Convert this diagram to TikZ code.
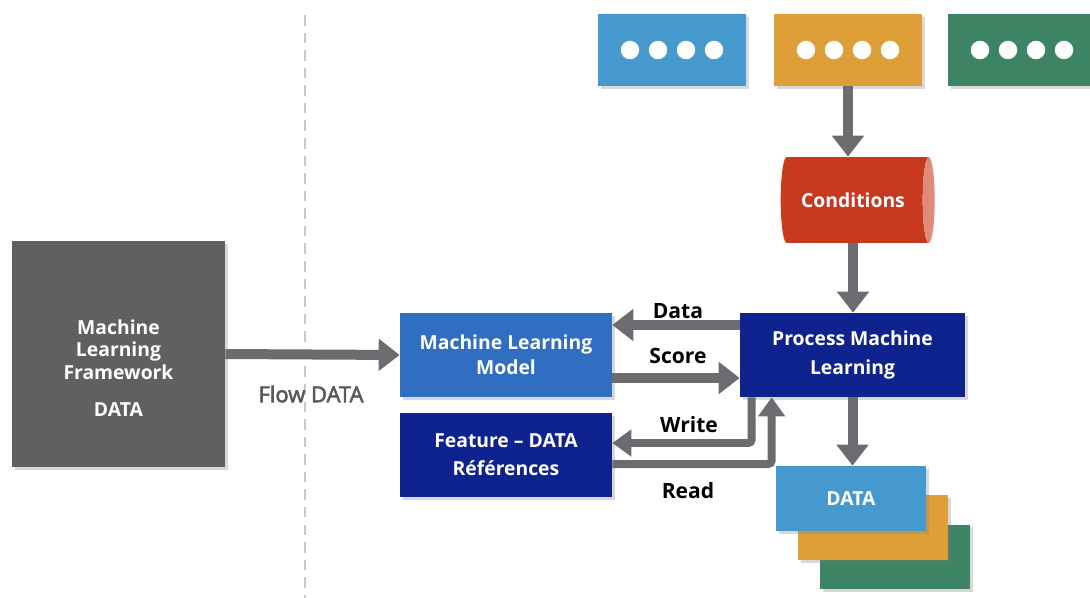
\documentclass[tikz,border=0pt]{standalone}
\usepackage{fontspec}
\setsansfont{Open Sans}
\newfontfamily\flowfont{Open Sans}[FakeBold=2.5]
\definecolor{fwgray}{HTML}{5F6062}
\definecolor{flowgray}{HTML}{58595B}
\definecolor{arrowgray}{HTML}{6B6C6F}
\definecolor{dashgray}{HTML}{C8C8C8}
\definecolor{mlblue}{HTML}{2F6EC1}
\definecolor{navy}{HTML}{0E238E}
\definecolor{tblue}{HTML}{4699CC}
\definecolor{torange}{HTML}{DF9F38}
\definecolor{tgreen}{HTML}{3C8463}
\definecolor{condred}{HTML}{C83A1F}
\definecolor{condcap}{HTML}{E08A77}
\usetikzlibrary{shapes.geometric,arrows.meta,positioning,calc,shadows}

\begin{document}
\begin{tikzpicture}[
  x=0.02cm, y=-0.02cm,
  box/.style={fill=#1, draw=none, text=white, font=\sffamily\bfseries\fontsize{11}{14}\selectfont,
    align=center, drop shadow={shadow xshift=1.5pt, shadow yshift=-1.5pt, opacity=0.3}},
  flow/.style={draw=arrowgray, line width=0.2cm, -{Triangle[length=0.42cm, width=0.62cm]}},
  thinflow/.style={draw=arrowgray, line width=0.16cm, rounded corners=2pt,
    -{Triangle[length=0.38cm, width=0.52cm]}},
  lbl/.style={font=\sffamily\bfseries\large, text=black}
]
  \clip (0,0) rectangle (1090,598);
  \fill[white] (0,0) rectangle (1090,598);

  % Separator
  \draw[dashgray, line width=1.5pt, dash pattern=on 6pt off 4pt] (305,15) -- (305,598);

  % Left block
  \node[box=fwgray, minimum width=4.26cm, minimum height=4.52cm] (frame) at (118.5,354) {};
  \node[text=white, font=\sffamily\bfseries\fontsize{11}{13}\selectfont, align=center]
    (frametxt) at (118.5,368) {Machine\\Learning\\Framework\\[8pt]DATA};
  \node[font=\flowfont\fontsize{12.5}{15}\selectfont, text=flowgray] (flowlbl) at (311,394) {Flow DATA};

  % Middle boxes
  \node[box=mlblue, minimum width=4.24cm, minimum height=1.68cm] (mlmodel) at (506,355)
    {Machine Learning\\Model};
  \node[box=navy, minimum width=4.24cm, minimum height=1.68cm] (feature) at (506,455)
    {Feature -- DATA\\[2pt]Références};
  \node[box=navy, minimum width=4.5cm, minimum height=1.68cm] (process) at (852.5,355)
    {Process Machine\\[2pt]Learning};

  % Top sources
  \node[box=tblue, minimum width=2.96cm, minimum height=1.44cm] (srcblue) at (672,50) {};
  \node[box=torange, minimum width=2.96cm, minimum height=1.44cm] (srcorange) at (848,50) {};
  \node[box=tgreen, minimum width=2.96cm, minimum height=1.44cm] (srcgreen) at (1022,50) {};
  \foreach \src in {srcblue,srcorange,srcgreen}
    \foreach \dx in {-42,-14,14,42}
      \fill[white] ($(\src.center)+(\dx,0)$) circle (0.185cm);

  % Conditions
  \node[cylinder, shape border rotate=0, aspect=0.45, draw=none,
    cylinder uses custom fill, cylinder body fill=condred, cylinder end fill=condcap,
    minimum height=3.08cm, minimum width=1.72cm, text=white,
    font=\sffamily\bfseries\fontsize{11}{14}\selectfont] (cond) at (853,200)
    {Conditions};

  % Output stack
  \node[box=tgreen, minimum width=3.0cm, minimum height=1.3cm] (dgreen) at (895,557) {};
  \node[box=torange, minimum width=3.0cm, minimum height=1.3cm] (dorange) at (873,527.5) {};
  \node[box=tblue, minimum width=3.0cm, minimum height=1.3cm] (dblue) at (851,498.5) {DATA};

  % Connectors
  \draw[flow] (frame.east) -- (mlmodel.west);
  \draw[flow] (srcorange.south) -- (srcorange.south |- cond.north);
  \draw[flow] (cond.south) -- (cond.south |- process.north);
  \draw[flow] (process.south) -- (process.south |- dblue.north);
  \draw[flow] ($(process.west)+(0,-30)$) -- ($(mlmodel.east)+(0,-30)$);
  \draw[flow] ($(mlmodel.east)+(0,23)$) -- ($(process.west)+(0,23)$);
  \draw[thinflow] ($(process.south west)+(12,0)$) |- ($(feature.east)+(0,-12)$);
  \draw[thinflow] ($(feature.east)+(0,9)$) -| ($(process.south west)+(32,0)$);

  % Labels
  \node[lbl] (datalbl) at (678,311) {Data};
  \node[lbl] (scorelbl) at (678,356) {Score};
  \node[lbl] (writelbl) at (689,425) {Write};
  \node[lbl] (readlbl) at (688,491) {Read};
\end{tikzpicture}
\end{document}
